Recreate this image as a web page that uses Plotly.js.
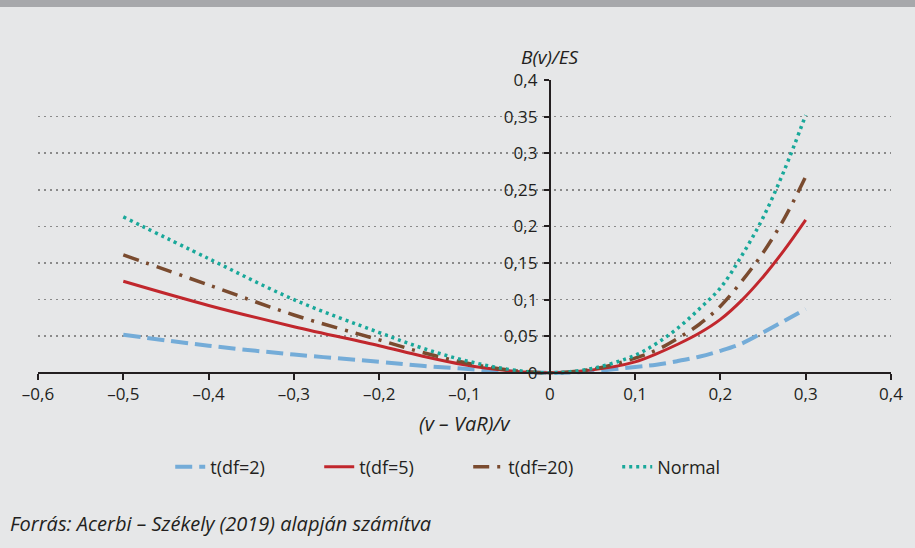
<!DOCTYPE html>
<html>
<head>
<meta charset="utf-8">
<script src="https://cdn.plot.ly/plotly-3.0.1.min.js"></script>
<style>
html,body{margin:0;padding:0;background:#e6e7e8;}
#chart{width:915px;height:548px;}
</style>
</head>
<body>
<div id="chart"></div>
<script>
// ---- data ----
const xVals = [-0.5, -0.4, -0.3, -0.2, -0.15, -0.1, -0.05, 0, 0.05, 0.1, 0.125, 0.15, 0.175, 0.2, 0.225, 0.25, 0.275, 0.3];
const tDf2  = [0.052, 0.037, 0.025, 0.015, 0.0096, 0.0055, 0.002, 0, 0.002, 0.008, 0.011, 0.016, 0.022, 0.030, 0.040, 0.055, 0.071, 0.087];
const tDf5  = [0.125, 0.092, 0.063, 0.037, 0.023, 0.011, 0.003, 0, 0.004, 0.015, 0.026, 0.039, 0.054, 0.073, 0.099, 0.131, 0.168, 0.209];
const tDf20 = [0.161, 0.120, 0.079, 0.045, 0.028, 0.014, 0.004, 0, 0.005, 0.020, 0.031, 0.047, 0.066, 0.091, 0.125, 0.164, 0.211, 0.268];
const normal= [0.213, 0.156, 0.100, 0.055, 0.034, 0.017, 0.005, 0, 0.006, 0.024, 0.040, 0.061, 0.087, 0.116, 0.160, 0.212, 0.277, 0.352];
const seriesNames = ['t(df=2)', 't(df=5)', 't(df=20)', 'Normal'];

const xTickVals = [-0.6, -0.5, -0.4, -0.3, -0.2, -0.1, 0, 0.1, 0.2, 0.3, 0.4];
const xTickText = ['–0,6', '–0,5', '–0,4', '–0,3', '–0,2', '–0,1', '0', '0,1', '0,2', '0,3', '0,4'];
const yTickVals = [0, 0.05, 0.1, 0.15, 0.2, 0.25, 0.3, 0.35, 0.4];
const yTickText = ['0', '0,05', '0,1', '0,15', '0,2', '0,25', '0,3', '0,35', '0,4'];

const xTitle = '(v – VaR)/v';
const yTitle = 'B(v)/ES';
const source = 'Forrás: Acerbi – Székely (2019) alapján számítva';

const FONT = 'Open Sans, sans-serif';

const traces = [
  {x: xVals, y: tDf2, name: seriesNames[0], mode: 'lines',
   line: {color: '#74acd8', width: 4, dash: '17px,7px', shape: 'spline', smoothing: 1}},
  {x: xVals, y: tDf5, name: seriesNames[1], mode: 'lines',
   line: {color: '#c1272d', width: 3, shape: 'spline', smoothing: 1}},
  {x: xVals, y: tDf20, name: seriesNames[2], mode: 'lines',
   line: {color: '#7a4b2f', width: 3.5, dash: '16px,8px,3px,8px', shape: 'spline', smoothing: 1}},
  {x: xVals, y: normal, name: seriesNames[3], mode: 'lines',
   line: {color: '#19a89a', width: 3.5, dash: '3px,4px', shape: 'spline', smoothing: 1}}
];

const layout = {
  width: 915, height: 548,
  paper_bgcolor: '#e6e7e8', plot_bgcolor: '#e6e7e8',
  margin: {l: 38, r: 24, t: 80, b: 173},
  font: {family: FONT, size: 17, color: '#231f20'},
  showlegend: true,
  xaxis: {
    range: [-0.6, 0.4], domain: [0, 1],
    tickvals: xTickVals, ticktext: xTickText,
    showgrid: false, zeroline: false,
    showline: true, linecolor: '#231f20', linewidth: 2,
    ticks: 'outside', ticklen: 6, tickwidth: 2, tickcolor: '#231f20',
    anchor: 'free', position: 0.003 / 0.403,
    tickfont: {size: 17}
  },
  yaxis: {
    range: [-0.003, 0.4],
    tickvals: yTickVals, ticktext: yTickText,
    showgrid: true, gridcolor: '#8a8a8a', gridwidth: 1.5, griddash: '2px,4px',
    zeroline: false,
    showline: true, linecolor: '#231f20', linewidth: 2,
    ticks: 'outside', ticklen: 5, tickwidth: 2, tickcolor: '#231f20',
    anchor: 'free', position: 0.6, ticklabelstandoff: 3,
    tickfont: {size: 17}
  },
  legend: {
    orientation: 'h', x: 0.155, xanchor: 'left', y: -0.312, yanchor: 'middle',
    entrywidth: 104, bgcolor: 'rgba(0,0,0,0)', font: {size: 18}
  },
  shapes: [
    {type: 'rect', xref: 'paper', yref: 'paper', x0: -0.06, x1: 1.04,
     y0: 1 + 73 / 295, y1: 1 + 81 / 295, fillcolor: '#a7a8ab', line: {width: 0}, layer: 'below'}
  ],
  annotations: [
    {text: yTitle, xref: 'x', yref: 'paper', x: 0, y: 1 + 23 / 295, showarrow: false,
     xanchor: 'center', yanchor: 'middle', font: {size: 19, style: 'italic'}},
    {text: xTitle, xref: 'paper', yref: 'paper', x: 0.5, y: 1 - 343 / 295, showarrow: false,
     xanchor: 'center', yanchor: 'middle', font: {size: 20, style: 'italic'}},
    {text: source, xref: 'paper', yref: 'paper', x: -30 / 853, y: 1 - 443 / 295, showarrow: false,
     xanchor: 'left', yanchor: 'middle', font: {size: 20, style: 'italic'}}
  ]
};

Plotly.newPlot('chart', traces, layout, {displayModeBar: false, staticPlot: true});
</script>
</body>
</html>
